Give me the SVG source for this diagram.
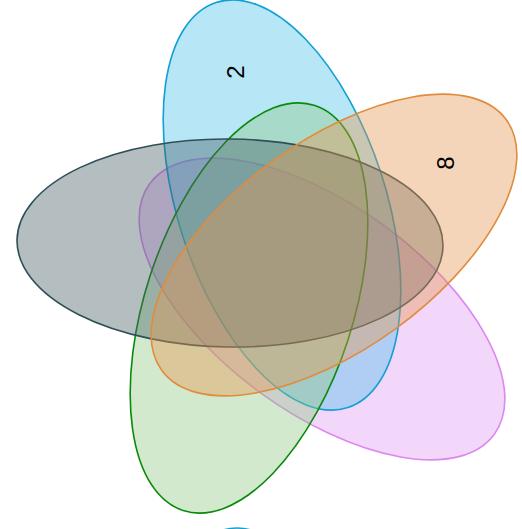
<svg xmlns="http://www.w3.org/2000/svg" width="522" height="529" viewBox="0 0 522 529">
<style>
.e{stroke-width:1.6;fill-opacity:0.4}
.lbl{font-family:"Liberation Sans",Arial,sans-serif;font-size:24px;fill:#000;text-anchor:middle;dominant-baseline:central}
</style>
<rect width="522" height="529" fill="#fff"/>
<g id="set-violet"><ellipse class="e" cx="322" cy="309" rx="213" ry="104" transform="rotate(36 322 309)" fill="rgb(225,155,243)" stroke="#dd88f0"/></g>
<g id="set-cyan"><ellipse class="e" cx="282" cy="205" rx="213" ry="104" transform="rotate(72 282 205)" fill="rgb(75,192,236)" stroke="#10a0d4"/></g>
<g id="set-green"><ellipse class="e" cx="249" cy="308" rx="213" ry="104" transform="rotate(-72 249 308)" fill="rgb(143,200,130)" stroke="#0a8a0a"/></g>
<g id="set-gray"><ellipse class="e" cx="230" cy="243" rx="213" ry="104" transform="rotate(0.8 230 243)" fill="rgb(68,92,100)" stroke="#2f4f56"/></g>
<g id="set-orange"><ellipse class="e" cx="334" cy="245" rx="213" ry="104" transform="rotate(-36 334 245)" fill="rgb(230,150,80)" stroke="#e08c3c"/></g>
<g id="set-cyan-2"><ellipse cx="237" cy="562" rx="40" ry="34" fill="rgb(75,192,236)" fill-opacity="0.4" stroke="#10a0d4" stroke-width="1.6"/></g>
<g id="labels">
<text class="lbl" transform="translate(235 72) rotate(-90)">2</text>
<text class="lbl" transform="translate(445 163) rotate(-90)">8</text>
</g>
<g id="connectors"></g>
</svg>
